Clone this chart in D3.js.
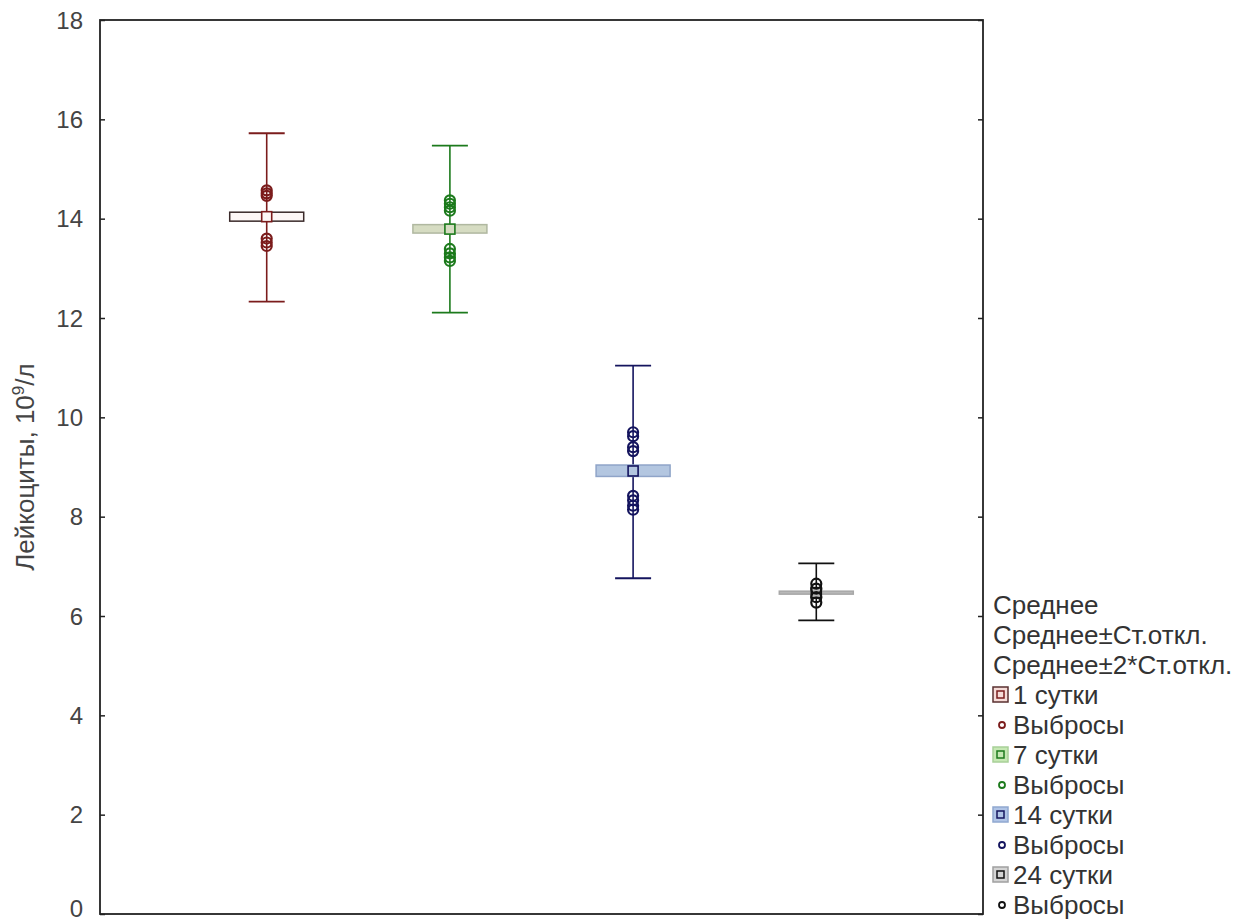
<!DOCTYPE html>
<html>
<head>
<meta charset="utf-8">
<script src="https://cdn.jsdelivr.net/npm/d3@7"></script>
<style>
  body { margin: 0; background: #fff; }
  text { font-family: Arial, "Liberation Sans", sans-serif; fill: #333; }
</style>
</head>
<body>
<svg width="1241" height="923"></svg>
<script>
var groups = ["1 сутки", "7 сутки", "14 сутки", "24 сутки"];
var means = [14.04, 13.79, 8.92, 6.47];
var sdLow = [13.95, 13.71, 8.81, 6.44];
var sdHigh = [14.13, 13.88, 9.04, 6.50];
var sd2Low = [12.33, 12.11, 6.76, 5.91];
var sd2High = [15.72, 15.47, 11.04, 7.06];
var outliers = [
  [14.57, 14.51, 14.46, 13.60, 13.52, 13.45],
  [14.37, 14.30, 14.23, 14.16, 13.39, 13.30, 13.22, 13.15],
  [9.70, 9.62, 9.40, 9.32, 8.42, 8.33, 8.22, 8.14],
  [6.65, 6.55, 6.38, 6.27]
];
var yTicks = [0, 2, 4, 6, 8, 10, 12, 14, 16, 18];
var legendHead = ["Среднее", "Среднее±Ст.откл.", "Среднее±2*Ст.откл."];
var outlierLabel = "Выбросы";

var lineCol = ["#7b1c1c", "#1c7a1c", "#14145e", "#111111"];
var boxFill = ["#fdf7f6", "#d6dcc2", "#b3c6e0", "#b8b8b8"];
var boxStroke = ["#3a2a2a", "#b0b8a0", "#8fa4c8", "#a8a8a8"];
var legFill = ["#f6dcd8", "#c6e8b4", "#b0c4e6", "#d4d4d4"];
var legStroke = ["#5a3030", "#a8d098", "#90a8d0", "#a0a0a0"];

var svg = d3.select("svg");
var pLeft = 100, pRight = 983, pTop = 20, pBottom = 914;

var x = d3.scalePoint().domain(groups).range([pLeft, pRight]).padding(0.91);
var y = d3.scaleLinear().domain([0, 18]).range([pBottom, pTop]);

// axes (ticks inward on both sides)
svg.append("g").attr("transform", "translate(" + pLeft + ",0)")
  .call(d3.axisRight(y).tickValues(yTicks).tickSize(5).tickFormat(""))
  .call(function(g){ g.select(".domain").remove(); g.selectAll("line").attr("stroke", "#222").attr("stroke-width", 1.5); });
svg.append("g").attr("transform", "translate(" + pRight + ",0)")
  .call(d3.axisLeft(y).tickValues(yTicks).tickSize(5).tickFormat(""))
  .call(function(g){ g.select(".domain").remove(); g.selectAll("line").attr("stroke", "#222").attr("stroke-width", 1.5); });

svg.selectAll(".ylab").data(yTicks).enter().append("text")
  .attr("x", 83).attr("y", function(d){ return Math.min(y(d), 908); })
  .attr("dy", "0.36em").attr("text-anchor", "end")
  .style("font-size", "24px").style("fill", "#444")
  .text(function(d){ return d; });

svg.append("rect").attr("x", pLeft).attr("y", pTop)
  .attr("width", pRight - pLeft).attr("height", pBottom - pTop)
  .attr("fill", "none").attr("stroke", "#222").attr("stroke-width", 1.8);

var title = svg.append("text")
  .attr("transform", "translate(34," + 467 + ") rotate(-90)")
  .attr("text-anchor", "middle").style("font-size", "26px").style("fill", "#444");
title.append("tspan").text("Лейкоциты, 10");
title.append("tspan").attr("dy", -10).style("font-size", "17px").text("9");
title.append("tspan").attr("dy", 10).text("/л");

// groups
var g = svg.selectAll(".grp").data(groups).enter().append("g").attr("class", "grp");
var boxW = 74, capW = 36, sq = 10;

g.append("line")
  .attr("x1", function(d){ return x(d); }).attr("x2", function(d){ return x(d); })
  .attr("y1", function(d, i){ return y(sd2High[i]); })
  .attr("y2", function(d, i){ return y(sd2Low[i]); })
  .attr("stroke", function(d, i){ return lineCol[i]; }).attr("stroke-width", 1.6);
[sd2High, sd2Low].forEach(function(arr){
  g.append("line")
    .attr("x1", function(d){ return x(d) - capW / 2; }).attr("x2", function(d){ return x(d) + capW / 2; })
    .attr("y1", function(d, i){ return y(arr[i]); }).attr("y2", function(d, i){ return y(arr[i]); })
    .attr("stroke", function(d, i){ return lineCol[i]; }).attr("stroke-width", 1.8);
});

g.append("rect")
  .attr("x", function(d){ return x(d) - boxW / 2; })
  .attr("y", function(d, i){ return y(sdHigh[i]); })
  .attr("width", boxW)
  .attr("height", function(d, i){ return Math.max(2, y(sdLow[i]) - y(sdHigh[i])); })
  .attr("fill", function(d, i){ return boxFill[i]; })
  .attr("stroke", function(d, i){ return boxStroke[i]; }).attr("stroke-width", 1.5);

g.append("rect")
  .attr("x", function(d){ return x(d) - sq / 2; })
  .attr("y", function(d, i){ return y(means[i]) - sq / 2; })
  .attr("width", sq).attr("height", sq)
  .attr("fill", function(d, i){ return boxFill[i]; })
  .attr("stroke", function(d, i){ return lineCol[i]; }).attr("stroke-width", 1.6);

g.each(function(d, i){
  d3.select(this).selectAll("circle").data(outliers[i]).enter().append("circle")
    .attr("cx", x(d)).attr("cy", function(v){ return y(v); }).attr("r", 5)
    .attr("fill", "none").attr("stroke", lineCol[i]).attr("stroke-width", 2.2);
});

// legend
var lx = 993, ly = 605, lh = 30;
var lfs = "26px";
legendHead.forEach(function(t, k){
  svg.append("text").attr("x", lx).attr("y", ly + k * lh).attr("dy", "0.35em")
    .style("font-size", lfs).text(t);
});
groups.forEach(function(gname, i){
  var yy = ly + (3 + i * 2) * lh;
  svg.append("rect").attr("x", lx).attr("y", yy - 8).attr("width", 15).attr("height", 15)
    .attr("fill", legFill[i]).attr("stroke", legStroke[i]).attr("stroke-width", 1.5);
  svg.append("rect").attr("x", lx + 4).attr("y", yy - 4).attr("width", 7).attr("height", 7)
    .attr("fill", "none").attr("stroke", lineCol[i]).attr("stroke-width", 1.5);
  svg.append("text").attr("x", lx + 20).attr("y", yy).attr("dy", "0.35em")
    .style("font-size", lfs).text(gname);
  var yo = yy + lh;
  svg.append("circle").attr("cx", lx + 9).attr("cy", yo).attr("r", 3)
    .attr("fill", "none").attr("stroke", lineCol[i]).attr("stroke-width", 1.8);
  svg.append("text").attr("x", lx + 20).attr("y", yo).attr("dy", "0.35em")
    .style("font-size", lfs).text(outlierLabel);
});
</script>
</body>
</html>
